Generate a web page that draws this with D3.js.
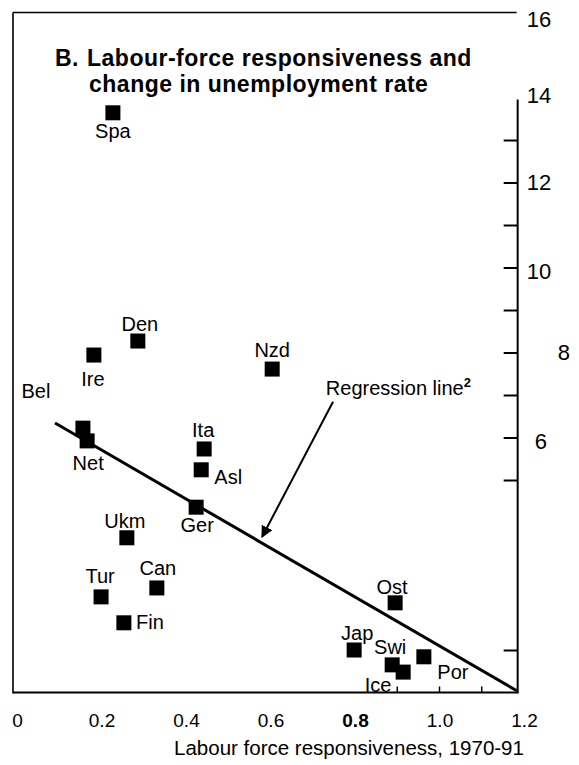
<!DOCTYPE html>
<html>
<head>
<meta charset="utf-8">
<script src="https://cdn.jsdelivr.net/npm/d3@7"></script>
<style>
  html, body { margin: 0; padding: 0; background: #fff; }
  svg { display: block; font-family: "Liberation Sans", Arial, Helvetica, sans-serif; }
</style>
</head>
<body>
<svg id="chart" width="579" height="765"></svg>
<script>
// ---------- data ----------
const countries = ["Spa","Den","Ire","Nzd","Bel","Net","Ita","Asl","Ger","Ukm","Tur","Can","Fin","Jap","Ost","Swi","Ice","Por"];
const responsiveness = [0.227,0.286,0.182,0.604,0.156,0.166,0.443,0.436,0.424,0.260,0.199,0.331,0.253,0.798,0.895,0.888,0.914,0.963];
const unempChange   = [13.64,8.27,7.94,7.61,6.22,5.92,5.73,5.24,4.36,3.64,2.25,2.46,1.64,1.00,2.11,0.65,0.48,0.84];

const regressionX = [0.09, 1.183];
const regressionY = [6.34, 0.04];

const xTickValues = [0, 0.2, 0.4, 0.6, 0.8, 1.0, 1.2];
const xTickLabels = ["0","0.2","0.4","0.6","0.8","1.0","1.2"];
const xMinorTicks = [0.9, 1.0, 1.1];
const yTickValues = [1, 5, 6, 7, 8, 9, 10, 11, 12, 13];
const yLabelValues = [16, 14, 12, 10, 8, 6];

const titlePrefix = "B.";
const titleLines = ["Labour-force responsiveness and", "change in unemployment rate"];
const xAxisTitle = "Labour force responsiveness, 1970-91";
const annotationText = "Regression line";
const annotationSup = "2";

// ---------- layout ----------
const svg = d3.select("#chart");
const x = d3.scaleLinear().domain([0, 1.2]).range([17, 524]);
const y = d3.scaleLinear().domain([0, 16]).range([692.5, 12.5]);

const leftX = x(-0.0095);
const rightX = x(1.185);
const baseY = y(0);
const topY = y(16);

// frame: top, left, bottom
svg.append("line").attr("x1", leftX).attr("x2", rightX - 1).attr("y1", topY).attr("y2", topY)
  .attr("stroke", "#000").attr("stroke-width", 1.5);
svg.append("line").attr("x1", leftX).attr("x2", leftX).attr("y1", topY).attr("y2", baseY + 1)
  .attr("stroke", "#000").attr("stroke-width", 1.6);
svg.append("line").attr("x1", leftX).attr("x2", rightX + 1).attr("y1", baseY).attr("y2", baseY)
  .attr("stroke", "#000").attr("stroke-width", 2.2);
// right axis line
svg.append("line").attr("x1", rightX).attr("x2", rightX).attr("y1", y(14) + 2).attr("y2", baseY)
  .attr("stroke", "#000").attr("stroke-width", 2);

// right axis ticks (pointing inward)
const yAxisTicks = d3.axisLeft(y).tickValues(yTickValues).tickSize(14).tickFormat("");
const gy = svg.append("g").attr("transform", `translate(${rightX},0)`).call(yAxisTicks);
gy.select(".domain").remove();
gy.selectAll(".tick line").attr("stroke", "#000").attr("stroke-width", 2);

// right axis labels
const yLabelOffset = {16: [0, 6.5], 14: [0, -2], 12: [0, 0], 10: [0, 4], 8: [31, 0], 6: [8, 3.5]};
svg.append("g").selectAll("text").data(yLabelValues).join("text")
  .attr("x", d => rightX + 9 + yLabelOffset[d][0])
  .attr("y", d => y(d) + yLabelOffset[d][1])
  .attr("dominant-baseline", "central")
  .attr("font-size", 22)
  .attr("fill", "#000")
  .text(d => d);

// bottom axis labels
const xAxis = d3.axisBottom(x).tickValues(xTickValues).tickSize(0).tickPadding(21)
  .tickFormat((d, i) => xTickLabels[i]);
const gx = svg.append("g").attr("transform", `translate(0,${baseY})`).call(xAxis);
gx.select(".domain").remove();
gx.selectAll(".tick text")
  .attr("font-size", 19)
  .attr("font-family", "'Liberation Sans', Arial, sans-serif")
  .attr("fill", "#000")
  .attr("font-weight", (d, i) => xTickLabels[i] === "0.8" ? "bold" : "normal");

// small minor ticks on the baseline
svg.append("g").selectAll("line").data(xMinorTicks).join("line")
  .attr("x1", d => x(d)).attr("x2", d => x(d))
  .attr("y1", baseY).attr("y2", baseY - 6)
  .attr("stroke", "#000").attr("stroke-width", 1.5);

// x axis title
svg.append("text")
  .attr("x", 349).attr("y", 755)
  .attr("text-anchor", "middle")
  .attr("font-size", 20.5)
  .attr("fill", "#000")
  .text(xAxisTitle);

// title (one text element, two lines)
const title = svg.append("text")
  .attr("font-size", 23).attr("font-weight", "bold").attr("fill", "#000")
  .attr("letter-spacing", 0.5);
title.append("tspan").attr("x", 55).attr("y", 66).text(titlePrefix);
title.append("tspan").attr("x", 87).attr("y", 66).text(titleLines[0]);
title.append("tspan").attr("x", 89).attr("y", 92).text(titleLines[1]);

// regression line
const reg = d3.line().x(d => x(d[0])).y(d => y(d[1]));
svg.append("path")
  .datum(regressionX.map((v, i) => [v, regressionY[i]]))
  .attr("d", reg)
  .attr("fill", "none").attr("stroke", "#000").attr("stroke-width", 3);

// annotation + arrow
const arrowFrom = [0.748, 6.84];
const arrowTo = [0.580, 3.66];
const defs = svg.append("defs");
defs.append("marker").attr("id", "ah").attr("viewBox", "0 0 10 10")
  .attr("refX", 9).attr("refY", 5).attr("markerWidth", 6).attr("markerHeight", 6)
  .attr("markerUnits", "strokeWidth").attr("orient", "auto")
  .append("path").attr("d", "M0,0 L10,5 L0,10 z").attr("fill", "#000");
svg.append("line")
  .attr("x1", x(arrowFrom[0])).attr("y1", y(arrowFrom[1]))
  .attr("x2", x(arrowTo[0])).attr("y2", y(arrowTo[1]))
  .attr("stroke", "#000").attr("stroke-width", 2)
  .attr("marker-end", "url(#ah)");
const ann = svg.append("text")
  .attr("x", x(0.731)).attr("y", y(7.0))
  .attr("font-size", 20).attr("fill", "#000");
ann.append("tspan").text(annotationText);
ann.append("tspan").attr("dy", -8).attr("font-size", 13).attr("font-weight", "bold").text(annotationSup);

// points
const sq = 15;
const pts = countries.map((c, i) => ({c, x: responsiveness[i], y: unempChange[i]}));
svg.append("g").selectAll("rect").data(pts).join("rect")
  .attr("x", d => x(d.x) - sq / 2)
  .attr("y", d => y(d.y) - sq / 2)
  .attr("width", sq).attr("height", sq)
  .attr("fill", "#000");

// point labels (offsets from marker centre, px)
const labelOffset = {
  Spa: [0, 18], Den: [2, -17], Ire: [-1, 24], Nzd: [0, -19], Bel: [-47, -37],
  Net: [1, 22], Ita: [-1, -19], Asl: [27, 7], Ger: [1, 18], Ukm: [-2, -17],
  Tur: [-1, -21], Can: [1, -20], Fin: [26, -1], Jap: [3, -17], Ost: [-3, -16],
  Swi: [-2, -18], Ice: [-25, 13], Por: [29, 15]
};
svg.append("g").selectAll("text").data(pts).join("text")
  .attr("x", d => x(d.x) + labelOffset[d.c][0])
  .attr("y", d => y(d.y) + labelOffset[d.c][1])
  .attr("text-anchor", "middle")
  .attr("dominant-baseline", "central")
  .attr("font-size", 20)
  .attr("fill", "#000")
  .text(d => d.c);
</script>
</body>
</html>
